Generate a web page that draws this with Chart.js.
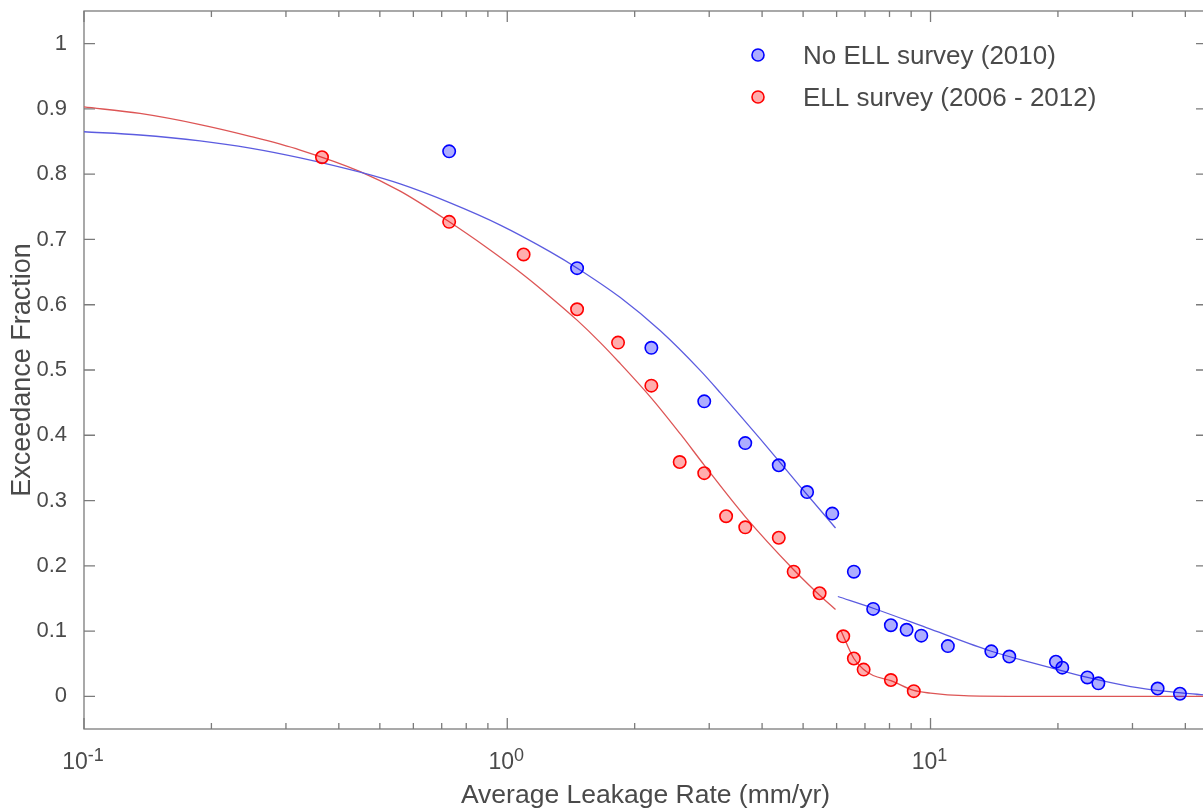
<!DOCTYPE html>
<html>
<head>
<meta charset="utf-8">
<script src="https://cdn.jsdelivr.net/npm/chart.js@4"></script>
<style>
  html, body { margin: 0; padding: 0; background: #fff; overflow: hidden; }
</style>
</head>
<body>
<canvas id="leakChart" width="1215" height="809"></canvas>
<script>
// measured points, rate in mm/yr
const noEllRate = [0.729, 1.462, 2.19, 2.92, 3.65, 4.38, 5.11, 5.86, 6.59, 7.32, 8.06, 8.78, 9.51, 10.99, 13.92, 15.35, 19.78, 20.48, 23.47, 24.92, 34.4, 38.85];
const noEllFraction = [0.835, 0.656, 0.534, 0.452, 0.388, 0.354, 0.313, 0.280, 0.191, 0.134, 0.109, 0.102, 0.093, 0.077, 0.069, 0.061, 0.053, 0.044, 0.029, 0.020, 0.012, 0.004];

const ellRate = [0.365, 0.729, 1.093, 1.462, 1.827, 2.19, 2.555, 2.92, 3.289, 3.65, 4.38, 4.75, 5.47, 6.22, 6.59, 6.95, 8.06, 9.13];
const ellFraction = [0.826, 0.727, 0.677, 0.593, 0.542, 0.476, 0.359, 0.342, 0.276, 0.259, 0.243, 0.191, 0.158, 0.092, 0.058, 0.041, 0.025, 0.008];

// fitted curves (two pieces each)
const noEllFitLowRate = [0.1, 0.1356, 0.188, 0.2469, 0.3242, 0.4493, 0.5585, 0.733, 0.9627, 1.264, 1.464, 1.85, 2.30, 2.86, 3.188, 3.964, 4.929, 5.964];
const noEllFitLowFraction = [0.865, 0.860, 0.851, 0.840, 0.825, 0.803, 0.785, 0.756, 0.722, 0.681, 0.656, 0.611, 0.560, 0.499, 0.465, 0.394, 0.321, 0.258];
const noEllFitHighRate = [6.04, 7.32, 10.0, 13.86, 17.24, 20.5, 23.5, 29.7, 35.6, 45];
const noEllFitHighFraction = [0.153, 0.135, 0.103, 0.0695, 0.052, 0.039, 0.029, 0.015, 0.008, 0.002];

const ellFitLowRate = [0.1, 0.1356, 0.188, 0.2469, 0.3242, 0.4493, 0.5585, 0.7293, 0.8921, 1.091, 1.264, 1.464, 1.659, 1.830, 2.19, 2.564, 2.922, 3.652, 4.75, 5.47, 5.964];
const ellFitLowFraction = [0.903, 0.893, 0.876, 0.858, 0.837, 0.804, 0.774, 0.727, 0.688, 0.646, 0.612, 0.576, 0.542, 0.513, 0.457, 0.402, 0.354, 0.275, 0.194, 0.155, 0.133];
const ellFitHighRate = [6.14, 6.59, 6.95, 7.32, 8.06, 9.13, 10.0, 12.0, 16.0, 45];
const ellFitHighFraction = [0.101, 0.058, 0.041, 0.032, 0.024, 0.009, 0.005, 0.001, 0, 0];

const yTickValues = [0, 0.1, 0.2, 0.3, 0.4, 0.5, 0.6, 0.7, 0.8, 0.9, 1];
const yTickLabels = ["0", "0.1", "0.2", "0.3", "0.4", "0.5", "0.6", "0.7", "0.8", "0.9", "1"];
const xTickValues = [0.1, 1, 10];
const xTickExponents = ["-1", "0", "1"];

const FONT = "'Liberation Sans', Arial, Helvetica, sans-serif";
const TEXT_COLOR = "#4a4a4a";
const AXIS_COLOR = "#7b7b7b";

Chart.defaults.font.family = FONT;

const toPoints = (xs, ys) => xs.map((x, i) => ({ x, y: ys[i] }));

const fitLine = (xs, ys, color) => ({
    data: toPoints(xs, ys),
    showLine: true,
    pointRadius: 0,
    borderColor: color,
    borderWidth: 1.3,
    cubicInterpolationMode: "monotone",
    order: 1,
});

// box, inward ticks and 10^n labels like the matlab axes
const axesFrame = {
    id: "axesFrame",
    beforeDatasetsDraw(chart) {
        const { ctx, chartArea: { left, right, top, bottom }, scales: { x, y } } = chart;
        ctx.save();
        ctx.strokeStyle = AXIS_COLOR;
        ctx.lineWidth = 1.3;
        ctx.strokeRect(left, top, right - left, bottom - top);
        ctx.beginPath();
        yTickValues.forEach((v) => {
            const py = y.getPixelForValue(v);
            ctx.moveTo(left, py);
            ctx.lineTo(left + 11, py);
            ctx.moveTo(right, py);
            ctx.lineTo(right - 11, py);
        });
        xTickValues.forEach((decade) => {
            for (let m = 1; m <= 9; m++) {
                const v = decade * m;
                if (v > x.max) break;
                const px = x.getPixelForValue(v);
                const len = m === 1 ? 11 : 6;
                ctx.moveTo(px, bottom);
                ctx.lineTo(px, bottom - len);
                ctx.moveTo(px, top);
                ctx.lineTo(px, top + len);
            }
        });
        ctx.stroke();
        ctx.restore();
    },
    afterDraw(chart) {
        const { ctx, chartArea: { left, top, bottom }, scales: { x } } = chart;
        ctx.save();
        ctx.fillStyle = TEXT_COLOR;
        ctx.textBaseline = "alphabetic";
        ctx.textAlign = "left";
        xTickValues.forEach((v, i) => {
            const px = x.getPixelForValue(v);
            ctx.font = "23px " + FONT;
            const baseW = ctx.measureText("10").width;
            ctx.font = "18px " + FONT;
            const expW = ctx.measureText(xTickExponents[i]).width;
            const start = px - (baseW + expW) / 2 - 1;
            ctx.font = "23px " + FONT;
            ctx.fillText("10", start, bottom + 40);
            ctx.font = "18px " + FONT;
            ctx.fillText(xTickExponents[i], start + baseW, bottom + 32);
        });

        // legend inside the axes
        const entries = chart.data.datasets.filter((d) => d.label);
        ctx.font = "26px " + FONT;
        ctx.textBaseline = "middle";
        entries.forEach((d, i) => {
            const mx = left + 674;
            const my = top + 44 + i * 42;
            ctx.beginPath();
            ctx.arc(mx, my, 6, 0, Math.PI * 2);
            ctx.fillStyle = d.backgroundColor;
            ctx.fill();
            ctx.lineWidth = d.borderWidth;
            ctx.strokeStyle = d.borderColor;
            ctx.stroke();
            ctx.fillStyle = TEXT_COLOR;
            ctx.fillText(d.label, left + 719, my + 1.5);
        });
        ctx.restore();
    },
};

new Chart(document.getElementById("leakChart"), {
    type: "scatter",
    data: {
        datasets: [
            {
                label: "No ELL survey (2010)",
                data: toPoints(noEllRate, noEllFraction),
                backgroundColor: "rgba(0, 0, 255, 0.32)",
                borderColor: "#0000ff",
                borderWidth: 1.6,
                pointRadius: 6.2,
                order: 0,
            },
            {
                label: "ELL survey (2006 - 2012)",
                data: toPoints(ellRate, ellFraction),
                backgroundColor: "rgba(255, 0, 0, 0.32)",
                borderColor: "#ff0000",
                borderWidth: 1.6,
                pointRadius: 6.2,
                order: 0,
            },
            fitLine(noEllFitLowRate, noEllFitLowFraction, "#5c5ce0"),
            fitLine(noEllFitHighRate, noEllFitHighFraction, "#5c5ce0"),
            fitLine(ellFitLowRate, ellFitLowFraction, "#dd5555"),
            fitLine(ellFitHighRate, ellFitHighFraction, "#dd5555"),
        ],
    },
    options: {
        responsive: false,
        animation: false,
        layout: { padding: { left: 0, right: 8, top: 11, bottom: 0 } },
        plugins: {
            legend: { display: false },
            tooltip: { enabled: false },
        },
        scales: {
            x: {
                type: "logarithmic",
                min: 0.1,
                max: 45,
                grid: { display: false },
                border: { display: false },
                ticks: { display: false },
                title: {
                    display: true,
                    text: "Average Leakage Rate (mm/yr)",
                    color: TEXT_COLOR,
                    font: { size: 26.5, lineHeight: 1 },
                    padding: { top: 53.5, bottom: 0 },
                },
                afterFit: (s) => {
                    s.height = 80;
                    s.paddingLeft = 0;
                    s.paddingRight = 0;
                },
            },
            y: {
                min: -0.05,
                max: 1.05,
                grid: { display: false },
                border: { display: false },
                afterBuildTicks: (s) => {
                    s.ticks = yTickValues.map((v) => ({ value: v }));
                },
                ticks: {
                    padding: 9,
                    color: TEXT_COLOR,
                    font: { size: 22 },
                    callback: (v, i) => yTickLabels[i],
                },
                title: {
                    display: true,
                    text: "Exceedance Fraction",
                    color: TEXT_COLOR,
                    font: { size: 27, lineHeight: 1 },
                    padding: { top: 9, bottom: 0 },
                },
                afterFit: (s) => {
                    s.width = 84;
                    s.paddingTop = 0;
                    s.paddingBottom = 0;
                },
            },
        },
    },
    plugins: [axesFrame],
});
</script>
</body>
</html>
